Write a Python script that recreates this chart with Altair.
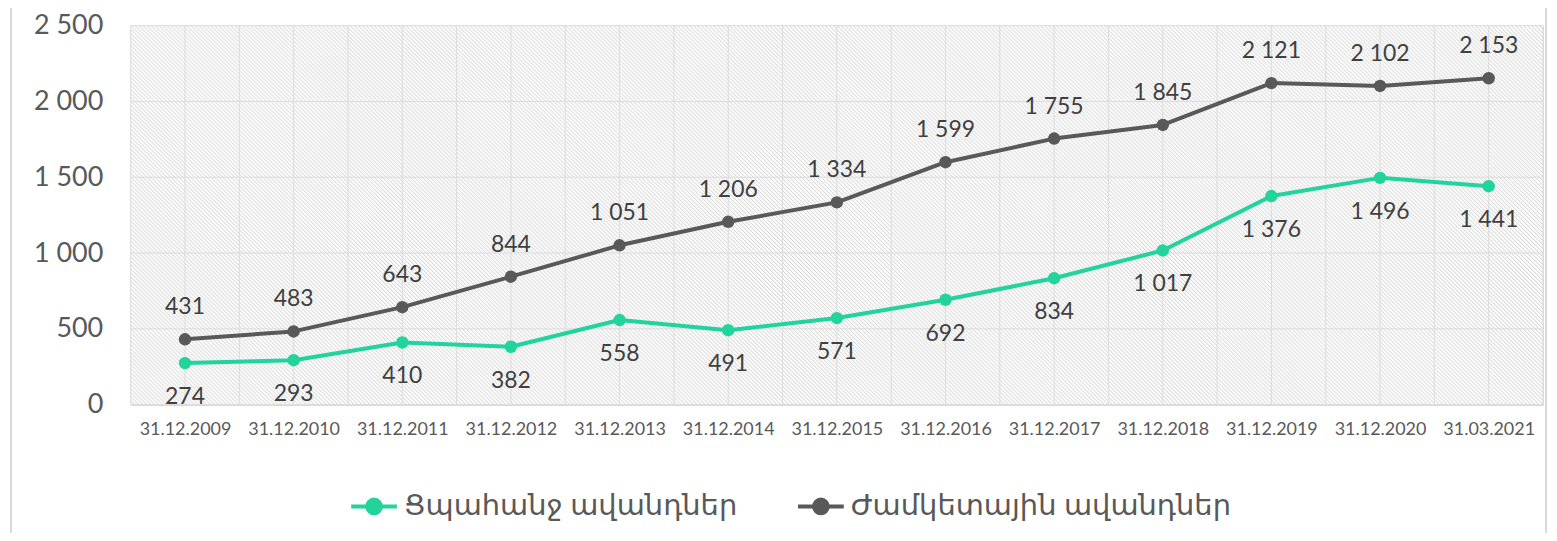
import json
import urllib.parse
import altair as alt
import pandas as pd

# ---- data ----
dates = ["31.12.2009", "31.12.2010", "31.12.2011", "31.12.2012", "31.12.2013",
         "31.12.2014", "31.12.2015", "31.12.2016", "31.12.2017", "31.12.2018",
         "31.12.2019", "31.12.2020", "31.03.2021"]
demand = [274, 293, 410, 382, 558, 491, 571, 692, 834, 1017, 1376, 1496, 1441]
term = [431, 483, 643, 844, 1051, 1206, 1334, 1599, 1755, 1845, 2121, 2102, 2153]
series_names = ["Ցպահանջ ավանդներ", "Ժամկետային ավանդներ"]
series_colors = ["#22d39b", "#595959"]
y_ticks = [0, 500, 1000, 1500, 2000, 2500]


def fmt(v):
    return f"{v:,}".replace(",", " ")


rows = []
for i, d in enumerate(dates):
    rows.append({"i": i, "date": d, "series": series_names[0], "v": demand[i], "lab": fmt(demand[i])})
    rows.append({"i": i, "date": d, "series": series_names[1], "v": term[i], "lab": fmt(term[i])})
df = pd.DataFrame(rows)

W, H = 1416, 380
FONT = "Lato, 'DejaVu Sans', sans-serif"
X_MIN, X_MAX = -0.5, len(dates) - 0.5
Y_MAX = y_ticks[-1]

# ---- hatched plot background: an SVG pattern image ----
hatch_svg = (
    "<svg xmlns='http://www.w3.org/2000/svg' width='%d' height='%d'>"
    "<defs><pattern id='h' width='4' height='4' patternUnits='userSpaceOnUse'>"
    "<rect width='4' height='4' fill='#ffffff'/>"
    "<g fill='#d6d6d6'><rect x='0' y='0' width='1' height='1'/><rect x='1' y='1' width='1' height='1'/>"
    "<rect x='2' y='2' width='1' height='1'/><rect x='3' y='3' width='1' height='1'/></g>"
    "<g fill='#f1f1f1'><rect x='1' y='0' width='1' height='1'/><rect x='2' y='1' width='1' height='1'/>"
    "<rect x='3' y='2' width='1' height='1'/><rect x='0' y='3' width='1' height='1'/></g>"
    "</pattern></defs><rect width='100%%' height='100%%' fill='url(#h)' shape-rendering='crispEdges'/></svg>"
) % (W, H)
hatch_url = "data:image/svg+xml;charset=utf-8," + urllib.parse.quote(hatch_svg)

x_vals = [j * 0.5 - 0.5 for j in range(2 * len(dates) + 1)]
label_expr = "datum.value % 1 === 0 ? " + json.dumps(dates) + "[datum.value] : ''"

x_scale = alt.Scale(domain=[X_MIN, X_MAX], nice=False, zero=False)
y_scale = alt.Scale(domain=[0, Y_MAX], nice=False)

x_enc = alt.X(
    "i:Q", scale=x_scale,
    axis=alt.Axis(
        values=x_vals, labelExpr=label_expr, title=None, grid=False,
        domain=True, domainColor="#d0d0d0",
        ticks=False, labelFont=FONT, labelFontSize=18, labelColor="#595959",
        labelPadding=16, labelOverlap=False, labelFlush=False,
    ),
)
y_enc = alt.Y(
    "v:Q", scale=y_scale,
    axis=alt.Axis(
        values=y_ticks, title=None, grid=False,
        domain=False, ticks=False, labelFont=FONT, labelFontSize=27,
        labelColor="#595959", labelPadding=28,
        labelExpr="replace(format(datum.value, ','), ',', ' ')",
    ),
)
legend = alt.Legend(
    title=None, orient="none", direction="horizontal", legendX=219, legendY=457,
    symbolType="M-1,0L1,0M-0.3,0A0.3,0.3,0,1,0,0.3,0A0.3,0.3,0,1,0,-0.3,0Z",
    symbolSize=2100, symbolStrokeWidth=4, labelFont=FONT, labelFontSize=29,
    labelColor="#595959", labelLimit=800, columnPadding=52, labelOffset=5,
)
cscale = alt.Scale(domain=series_names, range=series_colors)

bg = alt.Chart(alt.Data(values=[{"f": 1}])).mark_image(
    aspect=False, align="left", baseline="top", width=W, height=H, url=hatch_url).encode(
    x=alt.datum(X_MIN, scale=x_scale), y=alt.datum(Y_MAX, scale=y_scale))

vgrid = alt.Chart(pd.DataFrame({"gx": x_vals})).mark_rule(color="#dcdcdc", strokeWidth=1).encode(
    x=alt.X("gx:Q", scale=x_scale), y=alt.datum(0), y2=alt.datum(Y_MAX))
hgrid = alt.Chart(pd.DataFrame({"gy": y_ticks})).mark_rule(color="#dcdcdc", strokeWidth=1).encode(
    y=alt.Y("gy:Q", scale=y_scale), x=alt.datum(X_MIN), x2=alt.datum(X_MAX))

base = alt.Chart(df)
lines = base.mark_line(strokeWidth=4, strokeCap="round", strokeJoin="round").encode(
    x=x_enc, y=y_enc, color=alt.Color("series:N", scale=cscale, legend=legend))
points = base.mark_point(filled=True, size=155, opacity=1).encode(
    x="i:Q", y="v:Q", color=alt.Color("series:N", scale=cscale, legend=legend))
text_top = base.transform_filter(alt.datum.series == series_names[1]).mark_text(
    dy=-32, font=FONT, fontSize=23, color="#404040", baseline="middle").encode(
    x="i:Q", y="v:Q", text="lab:N")
text_bot = base.transform_filter(alt.datum.series == series_names[0]).mark_text(
    dy=34, font=FONT, fontSize=23, color="#404040", baseline="middle").encode(
    x="i:Q", y="v:Q", text="lab:N")

frame = alt.Chart(alt.Data(values=[{"f": 1}])).mark_rect(
    filled=False, stroke="#d9d9d9", strokeWidth=2, clip=False).encode(
    x=alt.value(-120), x2=alt.value(W + 3), y=alt.value(-19), y2=alt.value(H + 160))

chart = alt.layer(bg, vgrid, hgrid, lines, points, text_top, text_bot, frame).properties(
    width=W, height=H,
    autosize=alt.AutoSizeParams(type="none"),
    padding={"left": 123, "top": 17, "right": 6, "bottom": 128},
).configure_view(stroke=None).configure(background="white")

chart.save("out.html", embed_options={"renderer": "svg", "actions": False})
